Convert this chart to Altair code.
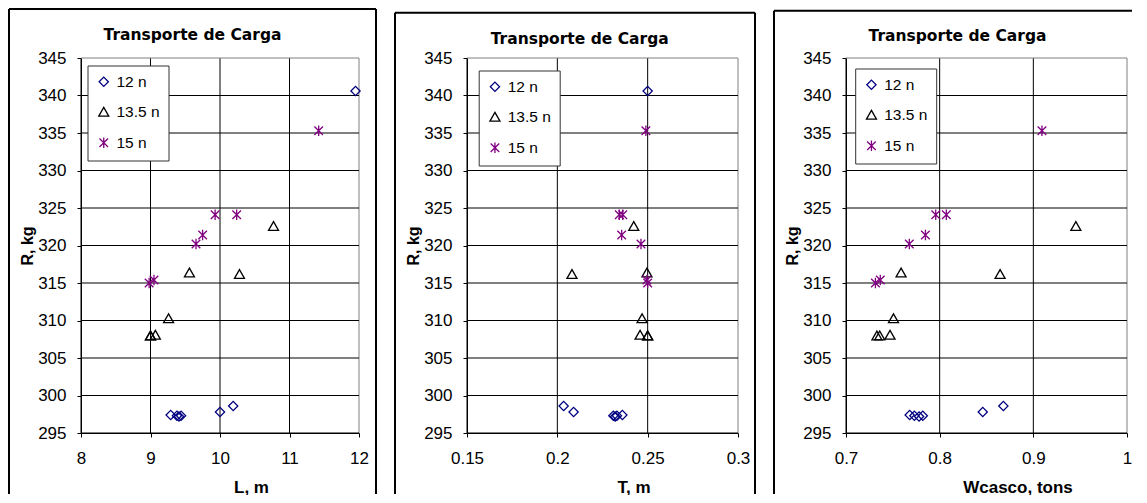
import altair as alt
import pandas as pd

series_names = ["12 n", "13.5 n", "15 n"]
series_colors = ["#000080", "#000000", "#800080"]
star_path = "M-0.8,-0.8L0.8,0.8M-0.8,0.8L0.8,-0.8M0,-1L0,1"
series_shapes = ["diamond", "triangle-up", star_path]
series_sizes = [85, 115, 130]

# 12 n
L_12 = [11.95, 10.19, 10.0, 9.29, 9.38, 9.41, 9.44]
T_12 = [0.250, 0.2035, 0.209, 0.236, 0.233, 0.232, 0.231]
W_12 = [None, 0.868, 0.846, 0.768, 0.773, 0.778, 0.782]
R_12 = [340.6, 298.6, 297.8, 297.4, 297.3, 297.2, 297.3]

# 13.5 n
L_135 = [10.77, 9.56, 10.28, 9.26, 9.0, 9.0, 9.07]
T_135 = [0.2423, 0.2496, 0.2081, 0.2469, 0.2500, 0.2500, 0.2458]
W_135 = [0.9454, 0.7588, 0.8645, 0.7507, 0.733, 0.736, 0.747]
R_135 = [322.6, 316.4, 316.2, 310.3, 308.0, 308.0, 308.1]

# 15 n
L_15 = [11.42, 9.93, 10.24, 9.75, 9.655, 8.98, 9.05]
T_15 = [0.249, 0.2362, 0.2343, 0.2356, 0.2463, 0.2500, 0.2496]
W_15 = [0.9092, 0.7958, 0.8071, 0.7848, 0.7676, 0.7314, 0.7366]
R_15 = [335.3, 324.1, 324.1, 321.4, 320.2, 315.0, 315.4]

y_ticks = [295, 300, 305, 310, 315, 320, 325, 330, 335, 340, 345]

rows = []
for name, Ls, Ts, Ws, Rs in [("12 n", L_12, T_12, W_12, R_12),
                             ("13.5 n", L_135, T_135, W_135, R_135),
                             ("15 n", L_15, T_15, W_15, R_15)]:
    for l, t, w, r in zip(Ls, Ts, Ws, Rs):
        rows.append({"series": name, "L": l, "T": t, "W": w, "R": r})
df = pd.DataFrame(rows)
one = pd.DataFrame({"k": [0]})

FONT = "Liberation Sans"
H = 375
BOTTOM = 436


def panel(xfield, xtitle, xdomain, xvalues, w, frame_top, title_x, title_y,
          leg_x, leg_y, right_border=True, filt=False):
    xscale = alt.Scale(domain=xdomain, nice=False, zero=False)
    yscale = alt.Scale(domain=[295, 345], nice=False, zero=False)
    xaxis = alt.Axis(values=xvalues, format="~g", title=xtitle,
                     titleX=w / 2 + 31, titleY=59, titleBaseline="alphabetic",
                     titleAlign="center",
                     titleFont=FONT, titleFontSize=17, titleFontWeight="bold",
                     titleColor="black", labelFont=FONT, labelFontSize=17,
                     labelColor="black", labelPadding=13, tickSize=4,
                     tickColor="black", domainColor="black", labelFlush=False,
                     labelOverlap=False, grid=False)
    yaxis = alt.Axis(values=y_ticks, title="R, kg", titleX=-49, titleY=H / 2,
                     titleAngle=-90, titleBaseline="alphabetic", titleAlign="center",
                     titleFont=FONT, titleFontSize=16, titleFontWeight="bold",
                     titleColor="black", labelFont=FONT, labelFontSize=17,
                     labelColor="black", labelPadding=11, tickSize=4,
                     tickColor="black", domainColor="black", labelFlush=False,
                     labelOverlap=False, grid=False)

    # grid lines, drawn from the tick values through the panel scales
    vgrid = alt.Chart(pd.DataFrame({xfield: xvalues})).mark_rule(strokeWidth=1).encode(
        x=alt.X(f"{xfield}:Q", scale=xscale, axis=xaxis),
        y=alt.value(0), y2=alt.value(H),
        color=alt.condition(f"datum.{xfield} == {xvalues[-1]}", alt.value("#808080"), alt.value("#000000")),
    )
    hgrid = alt.Chart(pd.DataFrame({"R": y_ticks})).mark_rule(strokeWidth=1).encode(
        y=alt.Y("R:Q", scale=yscale, axis=yaxis),
        x=alt.value(0), x2=alt.value(w),
        color=alt.condition("datum.R == 345", alt.value("#808080"), alt.value("#000000")),
    )

    src = alt.Chart(df)
    if filt:
        src = src.transform_filter(f"isValid(datum.{xfield})")
    legend = alt.Legend(title=None, orient="none", legendX=leg_x, legendY=leg_y,
                        fillColor="white", strokeColor="#333333", padding=8.5,
                        rowPadding=13, labelFontSize=15.5, labelFont=FONT,
                        labelColor="black", symbolSize=100, symbolStrokeWidth=1.3,
                        labelOffset=5)
    pts = src.mark_point(filled=False, strokeWidth=1.3, opacity=1).encode(
        x=alt.X(f"{xfield}:Q", scale=xscale, axis=xaxis),
        y=alt.Y("R:Q", scale=yscale, axis=yaxis),
        color=alt.Color("series:N", scale=alt.Scale(domain=series_names, range=series_colors), legend=legend),
        shape=alt.Shape("series:N", scale=alt.Scale(domain=series_names, range=series_shapes), legend=legend),
        size=alt.Size("series:N", scale=alt.Scale(domain=series_names, range=series_sizes), legend=None),
    )
    layers = []
    layers.append(alt.Chart(one).mark_rule(strokeOpacity=0, strokeWidth=2).encode(
        x=alt.value(-72), x2=alt.value(0), y=alt.value(-49)))
    layers.append(alt.Chart(one).mark_rule(color="black", strokeWidth=2).encode(
        x=alt.value(-72), y=alt.value(frame_top), y2=alt.value(BOTTOM)))
    top_end = w + 17 if right_border else w + 5
    layers.append(alt.Chart(one).mark_rule(color="black", strokeWidth=2).encode(
        x=alt.value(-72), x2=alt.value(top_end), y=alt.value(frame_top)))
    if right_border:
        layers.append(alt.Chart(one).mark_rule(color="black", strokeWidth=2).encode(
            x=alt.value(w + 17), y=alt.value(frame_top), y2=alt.value(BOTTOM)))
    layers.append(alt.Chart(one).mark_text(
        text="Transporte de Carga", font="DejaVu Sans", fontSize=15.5, fontWeight="bold",
        align="center", baseline="alphabetic", color="black").encode(
        x=alt.value(title_x), y=alt.value(title_y)))
    layers.append(vgrid)
    layers.append(hgrid)
    layers.append(pts)
    return alt.layer(*layers).properties(width=w, height=H)


p1 = panel("L", "L, m", [8, 12], [8, 9, 10, 11, 12], 278, -49, 111.5, -18, 6.5, 7.5)
p2 = panel("T", "T, m", [0.15, 0.3], [0.15, 0.2, 0.25, 0.3], 271, -45.3, 112.7, -14.5, 11.7, 12.5)
p3 = panel("W", "Wcasco, tons", [0.7, 1.0], [0.7, 0.8, 0.9, 1], 281, -47.3, 111.5, -17, 9.2, 10.5,
           right_border=False, filt=True)

chart = alt.hconcat(p1, p2, p3, spacing=17).resolve_scale(
    color="independent", shape="independent", size="independent", x="independent"
).resolve_legend(color="independent", shape="independent").properties(
    padding=0, background="white"
).configure_view(stroke=None)

chart.save("out.html", embed_options={"renderer": "svg", "actions": False})
